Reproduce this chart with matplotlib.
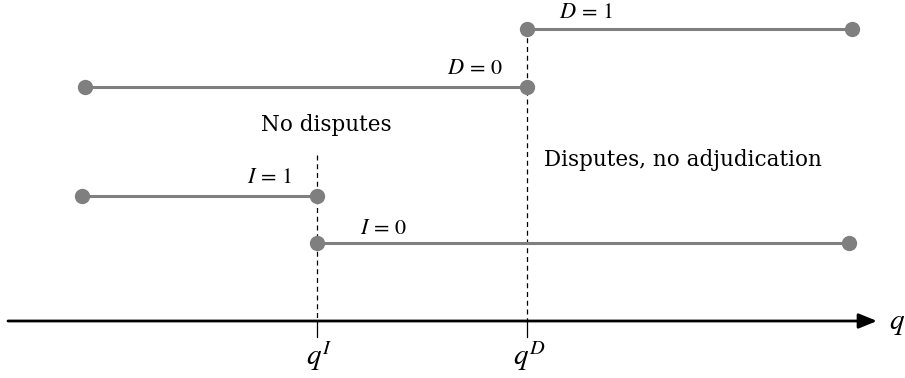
import matplotlib
matplotlib.use("Agg")
import matplotlib.pyplot as plt

# thresholds on the q axis (x-position in figure units)
q_I = 317
q_D = 527

# step segments: (x_start, x_end, level y, label, label x, label y)
seg_names = ["D = 1", "D = 0", "I = 1", "I = 0"]
seg_x0 = [q_D, 85, 82, q_I]
seg_x1 = [852, q_D, q_I, 849]
seg_y = [29, 87, 196, 243]
seg_lab_x = [586, 475, 270, 384]
seg_lab_y = [12, 68, 177, 228]
seg_tex = [r"$D\,=\,1$", r"$D\,=\,0$", r"$I\,=\,1$", r"$I\,=\,0$"]

region_labels = ["No disputes", "Disputes, no adjudication"]
region_x = [326, 683]
region_y = [125, 160]

axis_y = 321

plt.rcParams["mathtext.fontset"] = "stix"
fig = plt.figure(figsize=(9.05, 3.78), dpi=100)
ax = fig.add_axes([0, 0, 1, 1])
ax.set_xlim(0, 905)
ax.set_ylim(378, 0)
ax.axis("off")

gray = "#7f7f7f"
for x0, x1, y, tex, lx, ly in zip(seg_x0, seg_x1, seg_y, seg_tex, seg_lab_x, seg_lab_y):
    ax.plot([x0, x1], [y, y], color=gray, lw=2.2, marker="o", ms=10, zorder=3)
    ax.text(lx, ly, tex, fontsize=16, ha="center", va="center", color="black")

# dashed threshold lines
ax.plot([q_I, q_I], [155, axis_y], color="black", lw=0.9, ls=(0, (4, 3)), zorder=1)
ax.plot([q_D, q_D], [29, axis_y], color="black", lw=0.9, ls=(0, (4, 3)), zorder=1)
# tick marks below axis
for qx in (q_I, q_D):
    ax.plot([qx, qx], [axis_y, 337], color="black", lw=0.9)

# q axis with arrow
ax.annotate("", xy=(877, axis_y), xytext=(8, axis_y),
            arrowprops=dict(arrowstyle="-|>,head_length=1.1,head_width=0.45",
                            color="black", lw=2.0, shrinkA=0, shrinkB=0))
ax.text(897, axis_y + 2, r"$q$", fontsize=21, ha="center", va="center")
ax.text(q_I + 2, 356, r"$q^I$", fontsize=21, ha="center", va="center")
ax.text(q_D + 2, 356, r"$q^D$", fontsize=21, ha="center", va="center")

for t, x, y in zip(region_labels, region_x, region_y):
    ax.text(x, y, t, fontsize=15.5, ha="center", va="center", family="DejaVu Serif")

fig.savefig("out.png", dpi=100)
